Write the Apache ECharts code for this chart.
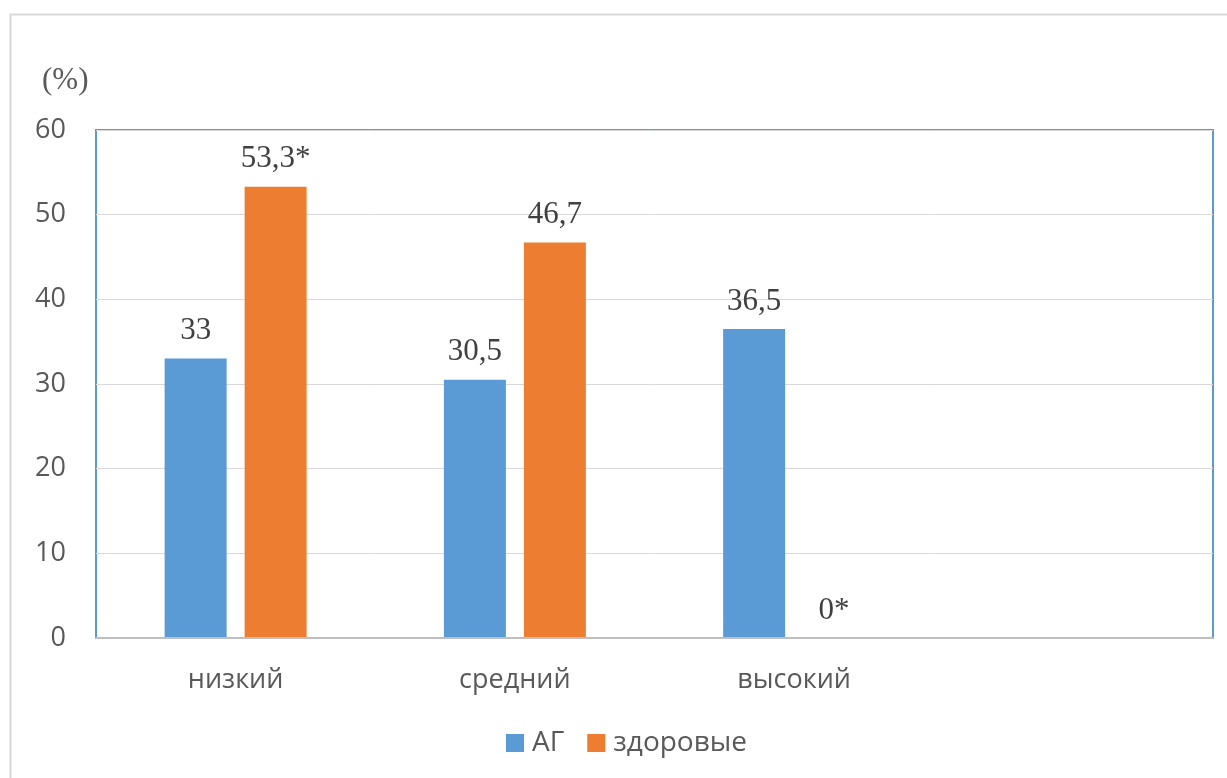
<!DOCTYPE html>
<html>
<head>
<meta charset="utf-8">
<script src="https://cdn.jsdelivr.net/npm/echarts@6/dist/echarts.min.js"></script>
<style>
  html, body { margin: 0; padding: 0; background: #ffffff; }
  #chart { width: 1227px; height: 778px; }
</style>
</head>
<body>
<div id="chart"></div>
<script>
// Levels (the fourth slot is left empty on the axis)
const categories = ['низкий', 'средний', 'высокий', ''];
// Share of patients per level, %
const agValues = [33, 30.5, 36.5, null];
const healthyValues = [53.3, 46.7, 0, null];
// Significance marks appended to the value labels
const agMarks = ['', '', '', ''];
const healthyMarks = ['*', '', '*', ''];
const yTicks = [0, 10, 20, 30, 40, 50, 60];

const seriesNames = ['АГ', 'здоровые'];
const colors = ['#5b9bd5', '#ed7d31'];

const chart = echarts.init(document.getElementById('chart'), null, { renderer: 'canvas' });

function labelFor(marks) {
  return function (p) {
    if (p.value === null || p.value === undefined) return '';
    return String(p.value).replace('.', ',') + marks[p.dataIndex];
  };
}

const valueLabel = {
  show: true,
  position: 'top',
  distance: 12,
  fontFamily: '"Liberation Serif", "DejaVu Serif", serif',
  fontSize: 31,
  color: '#404040'
};

const sansText = { fontFamily: '"Open Sans", sans-serif', fontSize: 27, color: '#595959' };

chart.setOption({
  animation: false,
  backgroundColor: '#ffffff',
  color: colors,
  graphic: [
    {
      type: 'rect',
      left: 8, top: 12,
      shape: { width: 1400, height: 900 },
      style: { fill: 'none', stroke: '#d9d9d9', lineWidth: 2 },
      silent: true, z: -10
    },
    {
      type: 'text',
      left: 42, top: 65,
      style: {
        text: '(%)',
        font: '31px "Liberation Serif", serif',
        fill: '#595959'
      }
    }
  ],
  grid: {
    left: 96, right: 14, top: 130, bottom: 140,
    show: true,
    borderColor: '#5b9bd5',
    borderWidth: 2,
    backgroundColor: 'transparent'
  },
  legend: {
    bottom: 16,
    left: 501,
    itemWidth: 18,
    itemHeight: 18,
    itemGap: 23,
    icon: 'rect',
    textStyle: { fontFamily: sansText.fontFamily, fontSize: 28, color: '#595959', padding: [0, 0, 0, 3] },
    data: seriesNames
  },
  xAxis: {
    type: 'category',
    data: categories,
    axisLine: { show: true, lineStyle: { color: '#bfbfbf', width: 2 } },
    axisTick: { show: false },
    axisLabel: Object.assign({}, sansText, { margin: 29 }),
    z: 5
  },
  yAxis: {
    type: 'value',
    min: yTicks[0],
    max: yTicks[yTicks.length - 1],
    interval: 10,
    axisLine: { show: false },
    axisTick: { show: false },
    splitLine: { lineStyle: { color: '#d9d9d9', width: 1 } },
    axisLabel: Object.assign({}, sansText, { margin: 30 })
  },
  series: [
    {
      name: seriesNames[0],
      type: 'bar',
      data: agValues,
      barWidth: 62,
      barGap: '29%',
      label: Object.assign({}, valueLabel, { formatter: labelFor(agMarks) })
    },
    {
      name: seriesNames[1],
      type: 'bar',
      data: healthyValues,
      barWidth: 62,
      label: Object.assign({}, valueLabel, { formatter: labelFor(healthyMarks) })
    }
  ]
});
</script>
</body>
</html>
